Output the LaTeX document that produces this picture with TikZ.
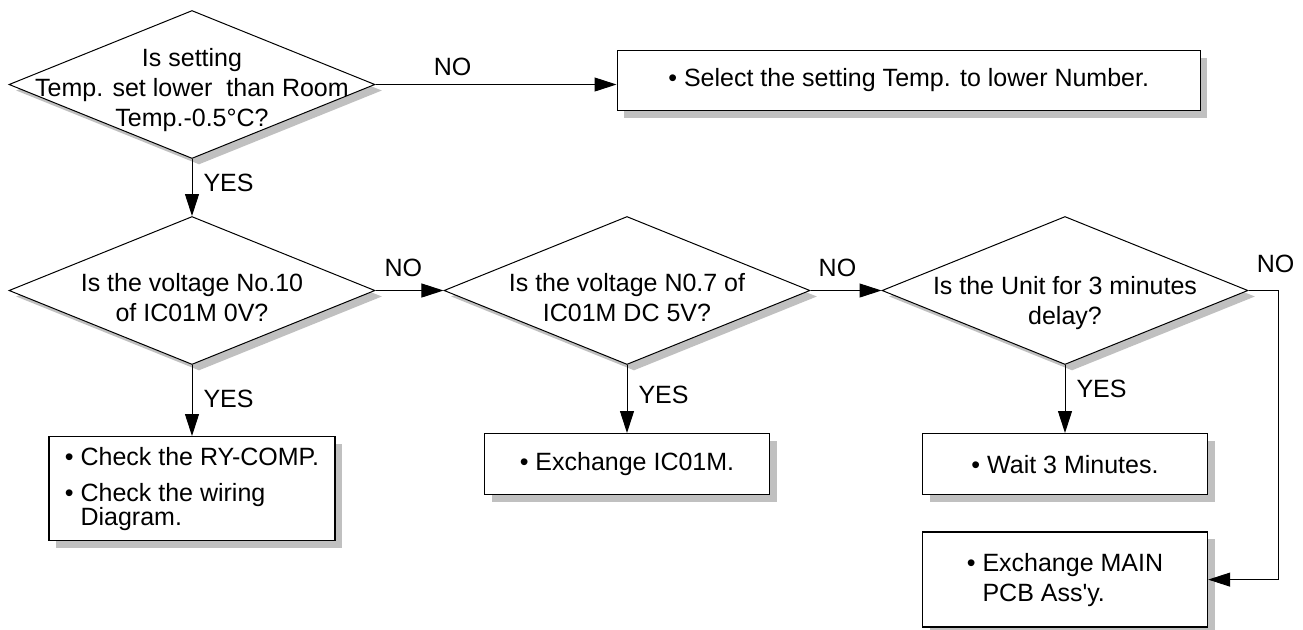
\documentclass[tikz,border=0pt]{standalone}
\usepackage{fontspec}
\setmainfont{Liberation Sans}
\usepackage{xcolor}
\usepackage{tikz}
\usetikzlibrary{shapes.geometric,positioning,arrows.meta,shadows}
\definecolor{chartInk}{HTML}{000000}
\definecolor{chartShade}{HTML}{C0C0C0}

\begin{document}
\begin{tikzpicture}[
  x=0.5pt, y=-0.5pt,
  font=\fontsize{12.5}{15}\selectfont,
  decision/.style={diamond, draw=chartInk, line width=0.5pt, fill=white, inner sep=0pt,
    minimum width=183pt, minimum height=74pt,
    drop shadow={shadow xshift=3.5pt, shadow yshift=-3pt, fill=chartShade, opacity=1}},
  qtext/.style={align=center, yshift=-3.5pt},
  action/.style={rectangle, draw=chartInk, line width=0.7pt, fill=white, align=left,
    drop shadow={shadow xshift=3.5pt, shadow yshift=-3.5pt, fill=chartShade, opacity=1}},
  flow/.style={-{Triangle[length=11pt, width=7pt]}, chartInk, line width=0.5pt},
  ans/.style={inner sep=1pt}
]
  \useasboundingbox (0,0) rectangle (1303,629);

  \node[decision, label={[qtext, yshift=0.5pt]center:{Is setting\\Temp. set lower~ than Room\\Temp.-0.5°C?}}]
    (d1) at (192,84.5) {};
  \node[decision, below=28.5pt of d1, label={[qtext]center:{Is the voltage No.10\\of IC01M 0V?}}] (d2) {};
  \node[decision, right=34pt of d2, label={[qtext]center:{Is the voltage N0.7 of\\IC01M DC 5V?}}] (d3) {};
  \node[decision, right=35.5pt of d3, label={[qtext, yshift=-3pt]center:{Is the Unit for 3 minutes\\delay?}}] (d4) {};

  \node[action, right=120.5pt of d1, yshift=2pt, minimum width=291.5pt, minimum height=30pt]
    (sel) {\textbullet\ Select the setting Temp. to lower Number.};
  \node[action, below=35.5pt of d2, minimum width=143pt, minimum height=52pt]
    (chk) {\textbullet\ Check the RY-COMP.\\[3pt]\textbullet\ Check the wiring\\[-3pt]\hphantom{\textbullet\ }Diagram.};
  \node[action, below=34pt of d3, minimum width=142.5pt, minimum height=30.5pt]
    (exc) {\textbullet\ Exchange IC01M.};
  \node[action, below=34pt of d4, minimum width=142.5pt, minimum height=30.5pt]
    (wait) {\textbullet\ Wait 3 Minutes.};
  \node[action, below=18pt of wait, minimum width=142.5pt, minimum height=47.5pt]
    (pcb) {\textbullet\ Exchange MAIN\\\hphantom{\textbullet\ }PCB Ass\textquotesingle y.};

  % NO branches
  \draw[flow] (d1.east) -- node[ans, above=3pt, pos=0.32] {NO} (d1.east -| sel.west);
  \draw[flow] (d2) -- node[ans, above=5.5pt, pos=0.41] {NO} (d3);
  \draw[flow] (d3) -- node[ans, above=5.5pt, pos=0.38] {NO} (d4);
  \draw[flow] (d4.east) -- ++(15pt,0) node[ans, above=7.5pt, xshift=-1.5pt] {NO} |- (pcb.east);

  % YES branches
  \draw[flow] (d1) -- node[ans, right=4.5pt, pos=0.42] {YES} (d2);
  \draw[flow] (d2) -- node[ans, right=4.5pt, pos=0.48] {YES} (chk);
  \draw[flow] (d3) -- node[ans, right=4.5pt, pos=0.44] {YES} (exc);
  \draw[flow] (d4) -- node[ans, right=4.5pt, pos=0.35] {YES} (wait);
\end{tikzpicture}
\end{document}
